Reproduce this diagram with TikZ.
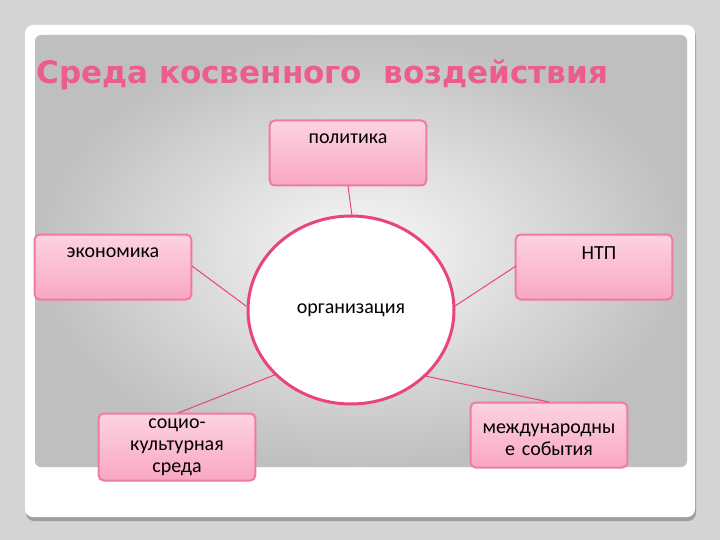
\documentclass[tikz,border=0pt]{standalone}
\usepackage{fontspec}
\usetikzlibrary{shapes.geometric}
\setmainfont{Carlito}
\newfontfamily\titlefont{DejaVu Sans}
\definecolor{bgc}{HTML}{D4D4D4}
\definecolor{pinkline}{HTML}{E8457E}
\definecolor{boxedge}{HTML}{F07AA6}
\definecolor{boxtop}{HTML}{FCD3E1}
\definecolor{boxbot}{HTML}{F9A7C3}
\definecolor{titlec}{HTML}{EC5C8C}
\tikzset{
  pbox/.style={draw=boxedge,line width=2pt,rounded corners=5pt,top color=boxtop,bottom color=boxbot,minimum width=155pt,minimum height=65pt,text width=150pt,align=center,font=\fontsize{20}{22}\selectfont},
  conn/.style={draw=pinkline,line width=1pt}
}
\begin{document}
\begin{tikzpicture}[x=1pt,y=-1pt]
\useasboundingbox (0,0) rectangle (720,540);
\fill[bgc] (0,0) rectangle (720,540);
\fill[gray!75] (26,28) [rounded corners=8pt] rectangle (696,521);
\fill[white,rounded corners=8pt] (25,25) rectangle (695,517);
\shade[rounded corners=6pt,inner color=white!95!gray,outer color=gray!50] (35,35) rectangle (687,467);
\node[anchor=west,font=\titlefont\bfseries\fontsize{31}{36}\selectfont,text=titlec] (title) at (33,75) {Среда косвенного\ \ воздействия};
\node[pbox,text depth=28pt] (pol) at (348,153) {политика};
\node[draw=pinkline,line width=3pt,fill=white,ellipse,minimum width=206pt,minimum height=188pt] (org) at (351,310) {};
\node[font=\fontsize{20}{22}\selectfont] (orgt) at (351,310) {организация};
\node[pbox,text depth=28pt] (eco) at (113,267) {экономика\hspace*{25pt}};
\node[pbox,text depth=28pt] (ntp) at (594,267) {\hspace*{10pt}НТП};
\node[pbox,minimum height=67pt] (soc) at (177,447) {социо-\\культурная\\среда};
\node[pbox,text depth=12pt] (int) at (549,435) {международны\\е события};
\draw[conn] (348,186) -- (352,216);
\draw[conn] (192,266) -- (246,306);
\draw[conn] (516,266) -- (455,306);
\draw[conn] (178,413) -- (277,374);
\draw[conn] (549,402) -- (425,376);
\end{tikzpicture}
\end{document}
